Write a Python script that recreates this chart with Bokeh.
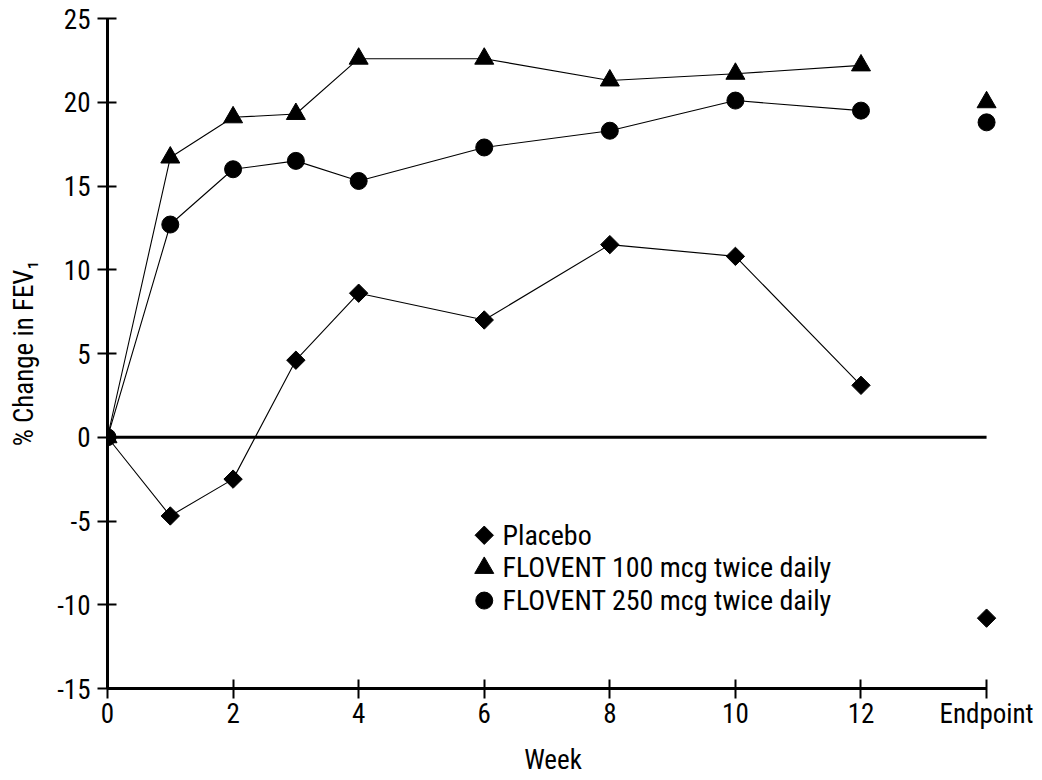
import math
from bokeh.plotting import figure
from bokeh.models import Range1d, FixedTicker
from bokeh.core.properties import value
from bokeh.embed import file_html
from bokeh.resources import INLINE

FONT = "'Liberation Sans Narrow', 'Roboto Condensed', 'DejaVu Sans Condensed', sans-serif"

# ---- data ----
weeks = [0, 1, 2, 3, 4, 6, 8, 10, 12]
endpoint_x = 14                      # position of the "Endpoint" category on the week axis
placebo = [0, -4.7, -2.5, 4.6, 8.6, 7.0, 11.5, 10.8, 3.1]
placebo_end = -10.8
flovent100 = [0, 16.7, 19.1, 19.3, 22.6, 22.6, 21.3, 21.7, 22.2]
flovent100_end = 20.0
flovent250 = [0, 12.7, 16.0, 16.5, 15.3, 17.3, 18.3, 20.1, 19.5]
flovent250_end = 18.8

x_ticks = [0, 2, 4, 6, 8, 10, 12, 14]
x_tick_labels = {14: "Endpoint"}
y_ticks = [-15, -10, -5, 0, 5, 10, 15, 20, 25]
y_tick_labels = {-15: "-15", -10: "-10", -5: "-5"}

series_names = ["Placebo", "FLOVENT 100 mcg twice daily", "FLOVENT 250 mcg twice daily"]
legend_y = [-5.85, -7.8, -9.75]
legend_x = 6.0
legend_text_x = 6.29

p = figure(width=1040, height=778, output_backend="svg", toolbar_location=None,
           x_range=Range1d(0, 14.19), y_range=Range1d(-15, 25),
           min_border_left=107, min_border_right=42, min_border_top=18, min_border_bottom=80)
p.outline_line_color = None
p.grid.visible = False
p.background_fill_color = "white"

# axes
for ax in (p.xaxis[0], p.yaxis[0]):
    ax.axis_line_width = 3
    ax.axis_line_color = "black"
    ax.major_tick_line_width = 2
    ax.major_tick_line_color = "black"
    ax.major_tick_in = 9
    ax.major_tick_out = 10
    ax.minor_tick_line_color = None
    ax.major_label_text_font = FONT
    ax.major_label_text_font_size = "27px"
    ax.major_label_text_color = "black"
    ax.axis_label_text_font = FONT
    ax.axis_label_text_font_size = "27px"
    ax.axis_label_text_font_style = "normal"
    ax.axis_label_text_color = "black"

xa = p.xaxis[0]
xa.ticker = FixedTicker(ticks=x_ticks)
xa.major_label_overrides = x_tick_labels
xa.bounds = (0, endpoint_x)
xa.major_label_standoff = -1
xa.axis_label = "Week"
xa.axis_label_standoff = 11

ya = p.yaxis[0]
ya.ticker = FixedTicker(ticks=y_ticks)
ya.major_label_overrides = y_tick_labels
ya.bounds = (-15, 25)
ya.major_label_standoff = 7
ya.axis_label = "% Change in FEV\u2081"
ya.axis_label_standoff = 14

# zero reference line
p.segment(x0=[0], y0=[0], x1=[endpoint_x], y1=[0], line_color="black", line_width=3)

# series lines
for ys in (placebo, flovent100, flovent250):
    p.line(weeks, ys, line_color="black", line_width=1.1)

# markers
p.scatter(weeks + [endpoint_x], placebo + [placebo_end], marker="square", angle=math.pi / 4,
          size=13, color="black")
p.scatter(weeks + [endpoint_x], flovent100 + [flovent100_end], marker="triangle",
          size=19, color="black")
p.scatter(weeks + [endpoint_x], flovent250 + [flovent250_end], marker="circle",
          size=17, color="black")

# legend
p.scatter([legend_x], [legend_y[0]], marker="square", angle=math.pi / 4, size=13, color="black")
p.scatter([legend_x], [legend_y[1]], marker="triangle", size=19, color="black")
p.scatter([legend_x], [legend_y[2]], marker="circle", size=17, color="black")
p.text(x=[legend_text_x] * 3, y=legend_y, text=series_names, text_font=value(FONT),
       text_font_size="28px", text_baseline="middle", text_align="left", text_color="black")

open("out.html", "w").write(file_html(p, INLINE))
